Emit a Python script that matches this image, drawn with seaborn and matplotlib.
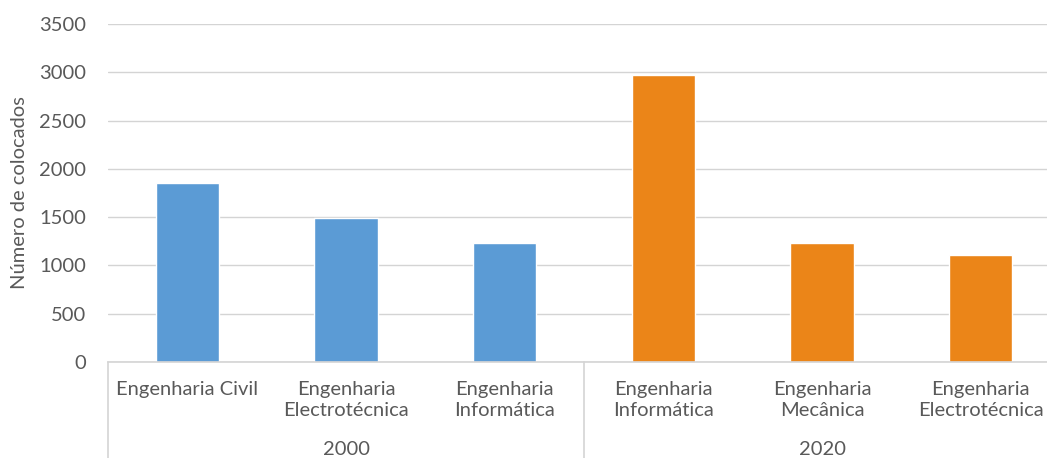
import matplotlib
matplotlib.use("Agg")
import matplotlib.pyplot as plt
import matplotlib.transforms as mtransforms
import pandas as pd
import seaborn as sns

# data
years = ["2000", "2000", "2000", "2020", "2020", "2020"]
courses = [
    "Engenharia Civil",
    "Engenharia\nElectrotécnica",
    "Engenharia\nInformática",
    "Engenharia\nInformática",
    "Engenharia\nMecânica",
    "Engenharia\nElectrotécnica",
]
placed = [1850, 1495, 1230, 2970, 1230, 1110]
year_colors = {"2000": "#5B9BD5", "2020": "#EB8518"}

df = pd.DataFrame({"year": years, "course": courses, "placed": placed})
df["key"] = df["year"] + "|" + df["course"]

sns.set_theme(style="white")
plt.rcParams["font.family"] = ["Lato", "DejaVu Sans"]

text_grey = "#595959"
line_grey = "#D4D4D4"
fs = 14.5

fig = plt.figure(figsize=(10.47, 4.58), dpi=100)
ax = fig.add_axes([108 / 1047, 1 - 362 / 458, 952 / 1047, 338 / 458])

sns.barplot(
    data=df, x="key", y="placed", hue="year", palette=year_colors,
    order=list(df["key"]), dodge=False, width=0.4, legend=False, ax=ax,
    saturation=1,
)

ax.set_ylim(0, 3500)
ax.set_yticks(range(0, 3501, 500))
ax.set_xlim(-0.5, len(courses) - 0.5)
ax.yaxis.grid(True, color=line_grey, linewidth=1)
ax.set_axisbelow(True)
for side in ["top", "right", "left"]:
    ax.spines[side].set_visible(False)
ax.spines["bottom"].set_color(line_grey)
ax.spines["bottom"].set_linewidth(1.2)

ax.tick_params(axis="y", length=0, labelsize=fs, labelcolor=text_grey, pad=16)
ax.tick_params(axis="x", length=0, labelsize=fs, labelcolor=text_grey, pad=14)
ax.set_xticks(range(len(courses)))
ax.set_xticklabels(courses, linespacing=1.25, va="top")
ax.set_xlabel("")
ax.set_ylabel("Número de colocados", fontsize=fs, color=text_grey, labelpad=8)

# second level of the category axis: year groups with separators
trans = mtransforms.blended_transform_factory(ax.transData, ax.transAxes)
for xpos in [-0.5, 2.5, 5.5]:
    ax.plot([xpos, xpos], [0, -0.3], transform=trans, color=line_grey,
            linewidth=1.2, clip_on=False)
group_years = sorted(set(years))
for g in group_years:
    idx = [i for i, y in enumerate(years) if y == g]
    center = (idx[0] + idx[-1]) / 2
    ax.text(center, -0.26, g, transform=trans, ha="center", va="center",
            fontsize=fs, color=text_grey)

fig.savefig("out.png", dpi=100)
